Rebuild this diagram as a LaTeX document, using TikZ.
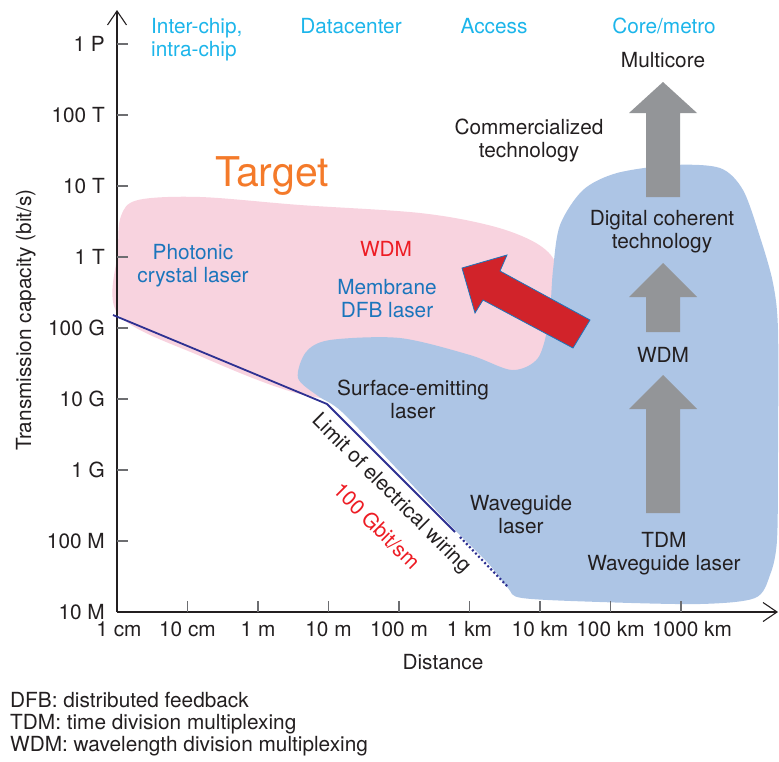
\documentclass[tikz,border=0pt]{standalone}
\usepackage{fontspec}
\setmainfont{TeX Gyre Heros}
\usetikzlibrary{arrows.meta}

\definecolor{ink}{HTML}{231F20}
\definecolor{tickgray}{HTML}{6D6E71}
\definecolor{pinkzone}{HTML}{F8D3DF}
\definecolor{bluezone}{HTML}{ADC5E5}
\definecolor{arrowgray}{HTML}{939598}
\definecolor{arrowred}{HTML}{D1232A}
\definecolor{headcyan}{HTML}{1CB5EA}
\definecolor{textblue}{HTML}{1B75BC}
\definecolor{textred}{HTML}{ED1C24}
\definecolor{targetorange}{HTML}{F47A2A}
\definecolor{wirenavy}{HTML}{2E3192}

\begin{document}
\begin{tikzpicture}[x=1pt, y=-1pt,
  font=\fontsize{20.8}{23}\selectfont,
  lbl/.style={text=ink, anchor=base, align=center, inner sep=0pt},
  ylbl/.style={text=ink, anchor=base east, inner sep=0pt},
  head/.style={text=headcyan, anchor=base, align=center, inner sep=0pt},
  axisline/.style={draw=ink, line width=1.1pt, -{Straight Barb[length=14pt, width=19pt]}},
  tick/.style={draw=tickgray, line width=1.1pt},
  wire/.style={draw=wirenavy, line width=1.8pt},
  grayarrow/.style={fill=arrowgray},
]
\useasboundingbox (0,0) rectangle (779,761);

% ---- technology regions ----
\fill[pinkzone] plot[smooth cycle, tension=0.55] coordinates {
  (118,314) (118,250) (121,216) (138,200) (200,197) (300,205) (420,213)
  (492,226) (536,243) (556,264) (557,300) (549,340) (530,368) (480,386)
  (380,400) (300,394) (200,356)};

\fill[bluezone] plot[smooth cycle, tension=0.5] coordinates {
  (298,378) (306,352) (330,340) (400,338) (470,355) (512,370) (538,358)
  (549,320) (553,270) (560,225) (583,190) (617,173) (673,165) (720,168)
  (743,190) (760,237) (773,283) (778,330) (778,450) (777,540) (770,575)
  (755,598) (700,604) (600,602) (522,598) (508,588) (488,563) (455,530)
  (400,472) (342,412) (318,396)};

% ---- axes ----
\coordinate (origin) at (117,612);
\coordinate (ytop) at (117,10);
\coordinate (xend) at (778,612);
\draw[axisline] (origin) -- (ytop);
\draw[axisline] (origin) -- (xend);

% capacity ticks and labels
\foreach \k/\t in {0/1 P,1/100 T,2/10 T,3/1 T,4/100 G,5/10 G,6/1 G,7/100 M}{
  \draw[tick] (117,44+71*\k) -- (128,44+71*\k);
  \node[ylbl] (ycap\k) at (105,51+71*\k) {\t};
}
\node[ylbl] (ycap8) at (105,619) {10 M};

% distance ticks and labels
\node[lbl] (xd0) at (119,636) {1 cm};
\foreach \k/\t in {1/10 cm,2/1 m,3/10 m,4/100 m,5/1 km,6/10 km,7/100 km}{
  \draw[tick] (117+70.5*\k,612) -- (117+70.5*\k,601);
  \node[lbl] (xd\k) at (117+70.5*\k,636) {\t};
}
\draw[tick] (681,612) -- (681,601);
\node[lbl] (xd8) at (692,636) {1000 km};

\node[lbl] (xtitle) at (443,669) {Distance};
\node[lbl, rotate=90] (ytitle) at (31,320) {Transmission capacity (bit/s)};

% ---- application headers ----
\node[head, align=left, anchor=base west] (hchip) at (151,56) {Inter-chip,\\intra-chip};
\node[head] (hdc) at (351,33) {Datacenter};
\node[head] (hacc) at (494,33) {Access};
\node[head] (hcore) at (664,33) {Core/metro};

% ---- limit of electrical wiring ----
\coordinate (wA) at (113,315);
\coordinate (wB) at (327,404);
\coordinate (wC) at (455,532);
\coordinate (wD) at (460,537);
\coordinate (wE) at (508,587);
\draw[wire, line join=round] (wA) -- (wB) -- (wC);
\draw[draw=wirenavy, line width=2.2pt, dash pattern=on 2pt off 2.4pt] (wD) -- (wE);
\node[text=ink, rotate=-45, inner sep=0pt] (wirelabel) at (391,494) {Limit of electrical wiring};
\node[text=textred, rotate=-45, inner sep=0pt] (wirerate) at (377,526) {100 Gbit/sm};

% ---- evolution arrows in core/metro ----
\fill[grayarrow] (646,197) -- (646,113) -- (629,113) -- (663,82) -- (697,113) -- (680,113) -- (680,197) -- cycle;
\fill[grayarrow] (646,332) -- (646,297) -- (629,297) -- (663,263) -- (697,297) -- (680,297) -- (680,332) -- cycle;
\fill[grayarrow] (646,513) -- (646,409) -- (629,409) -- (663,375) -- (697,409) -- (680,409) -- (680,513) -- cycle;

% ---- red arrow towards the target ----
\filldraw[fill=arrowred, draw=textblue, line width=0.8pt, line join=miter]
  (462,268) -- (507,255) -- (500,271) -- (590,320) -- (573,348) -- (483,300) -- (475,313) -- cycle;

% ---- labels (two-line labels are placed by their last baseline) ----
\node[text=targetorange, anchor=base, inner sep=0pt, font=\fontsize{41}{46}\selectfont] (target) at (272,186) {Target};
\node[lbl] (multicore) at (663,67) {Multicore};
\node[lbl] (commercial) at (529,157) {Commercialized\\technology};
\node[lbl] (coherent) at (662,248) {Digital coherent\\technology};
\node[lbl] (wdmcore) at (663,362) {WDM};
\node[lbl] (tdm) at (664,570) {TDM\\Waveguide laser};
\node[lbl] (waveguide) at (521,533) {Waveguide\\laser};
\node[lbl] (vcsel) at (413,418) {Surface-emitting\\laser};
\node[lbl, text=textblue] (photonic) at (193,282) {Photonic\\crystal laser};
\node[lbl, text=textred] (wdmtarget) at (386,256) {WDM};
\node[lbl, text=textblue] (membrane) at (387,317) {Membrane\\DFB laser};

% ---- abbreviations ----
\node[text=ink, anchor=base west, inner sep=0pt] (abbr1) at (10,707) {DFB: distributed feedback};
\node[text=ink, anchor=base west, inner sep=0pt] (abbr2) at (10,729) {TDM: time division multiplexing};
\node[text=ink, anchor=base west, inner sep=0pt] (abbr3) at (10,751) {WDM: wavelength division multiplexing};
\end{tikzpicture}
\end{document}
